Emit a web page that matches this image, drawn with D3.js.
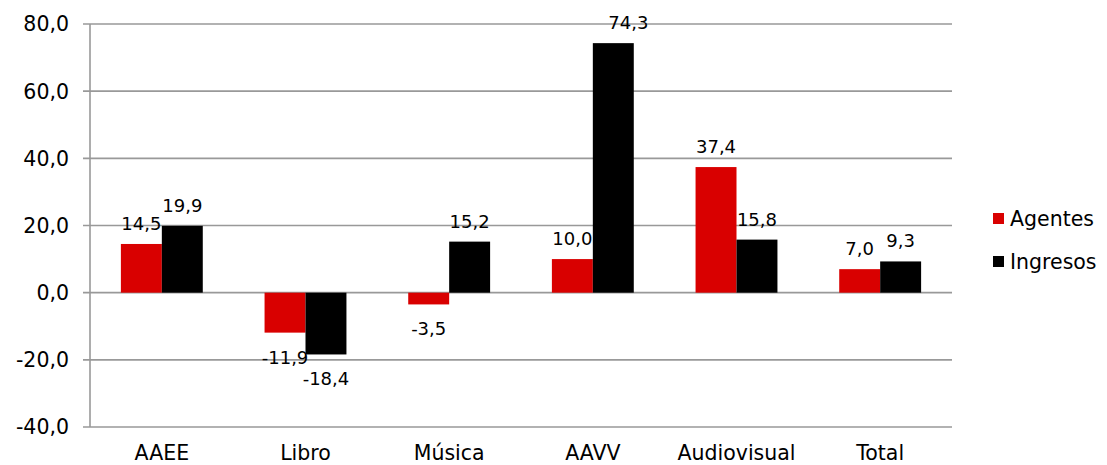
<!DOCTYPE html>
<html><head><meta charset="utf-8">
<script src="https://cdn.jsdelivr.net/npm/d3@7"></script>
<style>body{margin:0;background:#fff}svg{display:block}text{font-family:"DejaVu Sans",Verdana,sans-serif;fill:#000}</style>
</head><body><svg id="c" width="1107" height="465"></svg>
<script>
const categories = ["AAEE","Libro","Música","AAVV","Audiovisual","Total"];
const seriesNames = ["Agentes","Ingresos"];
const agentes = [14.5,-11.9,-3.5,10.0,37.4,7.0];
const ingresos = [19.9,-18.4,15.2,74.3,15.8,9.3];
const colors = ["#d90000","#000000"];
const yTicks = [-40,-20,0,20,40,60,80];

(function(){
const svg = d3.select("#c");
const pL = 90, pR = 952, pT = 24, pB = 427;
const fmt = v => v.toFixed(1).replace(".", ",");
const x = d3.scaleBand().domain(categories).range([pL,pR]).paddingInner(0).paddingOuter(0);
const y = d3.scaleLinear().domain([-40,80]).range([pB,pT]);
const bw = x.bandwidth()*0.285;

svg.append("g").selectAll("line").data(yTicks).join("line")
  .attr("x1",pL-7).attr("x2",pR).attr("y1",d=>y(d)).attr("y2",d=>y(d))
  .attr("stroke","#999").attr("stroke-width",1.6);
svg.append("line").attr("x1",pL).attr("x2",pL).attr("y1",pT).attr("y2",pB)
  .attr("stroke","#999").attr("stroke-width",1.6);
svg.append("g").selectAll("text").data(yTicks).join("text")
  .attr("x",pL-21).attr("y",d=>y(d)).attr("dy","0.36em").attr("text-anchor","end")
  .attr("font-size",20.5).text(fmt);
svg.append("g").selectAll("text").data(categories).join("text")
  .attr("x",d=>x(d)+x.bandwidth()/2).attr("y",460).attr("text-anchor","middle")
  .attr("font-size",20.5).text(d=>d);

const series = [agentes, ingresos];
series.forEach((vals,si)=>{
  const g = svg.append("g");
  const data = categories.map((c,i)=>({c,v:vals[i]}));
  const bx = d => x(d.c)+x.bandwidth()/2 + (si-1)*bw;
  g.selectAll("rect").data(data).join("rect")
    .attr("x",bx).attr("width",bw)
    .attr("y",d=>y(Math.max(0,d.v))).attr("height",d=>Math.abs(y(d.v)-y(0)))
    .attr("fill",colors[si]);
  g.selectAll("text").data(data).join("text")
    .attr("x",d=>bx(d)+bw/2 + (y(d.v)-20 < pT ? 15 : 0)).attr("text-anchor","middle").attr("font-size",18)
    .attr("y",d=>d.v>=0 ? y(d.v)-14 : y(d.v)+31).text(d=>fmt(d.v));
});

const lg = svg.append("g");
seriesNames.forEach((n,i)=>{
  const yy = 219 + i*43;
  lg.append("rect").attr("x",993).attr("y",yy-6).attr("width",11).attr("height",11).attr("fill",colors[i]);
  lg.append("text").attr("x",1010).attr("y",yy).attr("dy","0.36em").attr("font-size",20.5).text(n);
});
})();
</script></body></html>
